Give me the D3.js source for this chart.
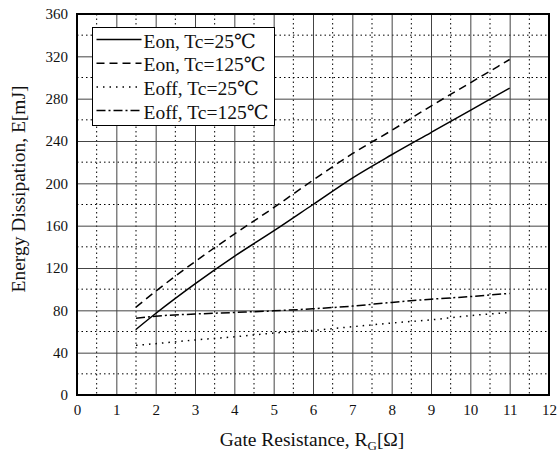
<!DOCTYPE html>
<html>
<head>
<meta charset="utf-8">
<script src="https://cdn.jsdelivr.net/npm/d3@7"></script>
<style>
body { margin: 0; background: #fff; }
text { font-family: "Liberation Serif", "DejaVu Serif", serif; fill: #111; }
</style>
</head>
<body>
<script>
//chart data
var rg = [1.5, 2, 3, 4, 5, 6, 7, 8, 9, 10, 11];
var eon25 = [62, 77, 105, 131, 155, 180, 205, 227, 248, 269, 290];
var eon125 = [83, 98, 126, 152, 177, 203, 228, 250, 273, 295, 317];
var eoff25 = [47, 48.5, 52, 55, 58.5, 61, 64.5, 68, 71, 75, 78];
var eoff125 = [72.5, 74.5, 76.5, 78, 79.5, 81.5, 84, 87.5, 90.5, 93, 96];
var seriesNames = ["Eon, Tc=25\u2103", "Eon, Tc=125\u2103", "Eoff, Tc=25\u2103", "Eoff, Tc=125\u2103"];
var xTicks = [0, 1, 2, 3, 4, 5, 6, 7, 8, 9, 10, 11, 12];
var yTicks = [0, 40, 80, 120, 160, 200, 240, 280, 320, 360];

var w = 559, h = 452;
//plot edges (note: "top" is reserved on window, so use pl/pr/pt/pb)
var pl = 77, pr = 549, pt = 14, pb = 395;

var svg = d3.select("body")
    .append("svg")
    .attr("width", w)
    .attr("height", h);

var x = d3.scaleLinear().domain([0, 12]).range([pl, pr]);
var y = d3.scaleLinear().domain([0, 360]).range([pb, pt]);

//dotted minor grid
var minorX = d3.range(0.5, 12, 1);
var minorY = d3.range(20, 360, 40);
svg.selectAll(".minorX")
    .data(minorX)
    .enter()
    .append("line")
    .attr("x1", d => x(d)).attr("x2", d => x(d))
    .attr("y1", pt).attr("y2", pb)
    .style("stroke", "#000").style("stroke-width", 1)
    .style("stroke-dasharray", "1.5,3");
svg.selectAll(".minorY")
    .data(minorY)
    .enter()
    .append("line")
    .attr("y1", d => y(d)).attr("y2", d => y(d))
    .attr("x1", pl).attr("x2", pr)
    .style("stroke", "#000").style("stroke-width", 1)
    .style("stroke-dasharray", "1.5,3");

//solid major grid
svg.append("g")
    .attr("transform", "translate(0," + pb + ")")
    .call(d3.axisBottom(x).tickValues(xTicks).tickSize(-(pb - pt)).tickFormat(""))
    .call(g => g.select(".domain").remove())
    .selectAll("line").style("stroke", "#444");
svg.append("g")
    .attr("transform", "translate(" + pl + ",0)")
    .call(d3.axisLeft(y).tickValues(yTicks).tickSize(-(pr - pl)).tickFormat(""))
    .call(g => g.select(".domain").remove())
    .selectAll("line").style("stroke", "#444");

//axes with labels
var xAxis = svg.append("g")
    .attr("transform", "translate(0," + pb + ")")
    .call(d3.axisBottom(x).tickValues(xTicks).tickSize(0).tickPadding(9))
    .attr("font-family", "Liberation Serif")
    .attr("font-size", 15);
xAxis.select(".domain").remove();
xAxis.selectAll("text").style("fill", "#111");

var yAxis = svg.append("g")
    .attr("transform", "translate(" + pl + ",0)")
    .call(d3.axisLeft(y).tickValues(yTicks).tickSize(0).tickPadding(9))
    .attr("font-family", "Liberation Serif")
    .attr("font-size", 15);
yAxis.select(".domain").remove();
yAxis.selectAll("text").style("fill", "#111");

//frame
svg.append("rect")
    .attr("x", pl).attr("y", pt)
    .attr("width", pr - pl).attr("height", pb - pt)
    .style("fill", "none").style("stroke", "#000").style("stroke-width", 2);

//series lines
var dashes = ["none", "8,5", "1.5,5", "9,3,2,3"];
var allSeries = [eon25, eon125, eoff25, eoff125];
var line = d3.line()
    .x((d, i) => x(rg[i]))
    .y(d => y(d))
    .curve(d3.curveMonotoneX);
svg.selectAll(".series")
    .data(allSeries)
    .enter()
    .append("path")
    .attr("class", "series")
    .attr("d", d => line(d))
    .style("fill", "none")
    .style("stroke", "#000")
    .style("stroke-width", 1.5)
    .style("stroke-dasharray", (d, i) => dashes[i]);

//legend
var legend = svg.append("g").attr("transform", "translate(92.5,27.5)");
legend.append("rect")
    .attr("width", 182).attr("height", 98)
    .style("fill", "#fff").style("stroke", "#000").style("stroke-width", 1);
var rows = legend.selectAll(".row")
    .data(seriesNames)
    .enter()
    .append("g")
    .attr("transform", (d, i) => "translate(0," + (12 + i * 23.7) + ")");
rows.append("line")
    .attr("x1", 4).attr("x2", 49)
    .style("stroke", "#000").style("stroke-width", 1.5)
    .style("stroke-dasharray", (d, i) => dashes[i]);
rows.append("text")
    .attr("x", 51).attr("y", 8)
    .style("font-size", "19.5px")
    .text(d => d);

//axis titles
var xTitle = svg.append("text")
    .attr("x", 312).attr("y", 446)
    .attr("text-anchor", "middle")
    .style("font-size", "19.5px");
xTitle.append("tspan").text("Gate Resistance, R");
xTitle.append("tspan").attr("dy", 4).style("font-size", "13px").text("G");
xTitle.append("tspan").attr("dy", -4).text("[\u03a9]");

svg.append("text")
    .attr("transform", "translate(25,189) rotate(-90)")
    .attr("text-anchor", "middle")
    .style("font-size", "19.5px")
    .text("Energy Dissipation, E[mJ]");
</script>
</body>
</html>
